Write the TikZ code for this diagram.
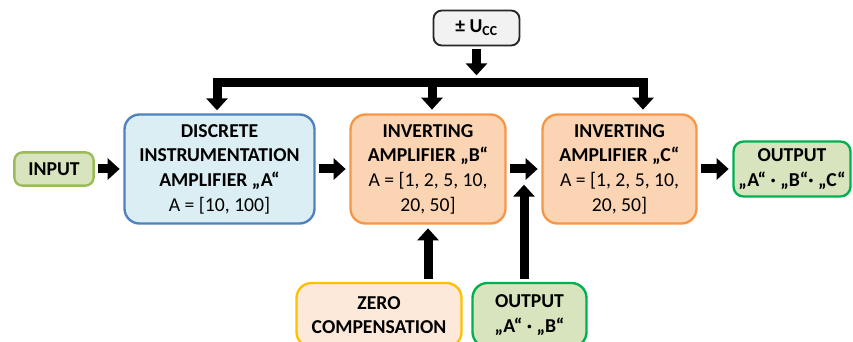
\documentclass[tikz,border=0pt]{standalone}
\usepackage{fontspec}
\setmainfont{Carlito}
\usetikzlibrary{arrows.meta,positioning}
\definecolor{greenfill}{HTML}{D7E4BD}
\definecolor{greenline}{HTML}{9BBB59}
\definecolor{outline}{HTML}{00B050}
\definecolor{bluefill}{HTML}{DBEEF4}
\definecolor{blueline}{HTML}{4F81BD}
\definecolor{orangefill}{HTML}{FBD4B4}
\definecolor{orangeline}{HTML}{F79646}
\definecolor{zerofill}{HTML}{FDE9D9}
\definecolor{zeroline}{HTML}{FFC000}
\definecolor{grayfill}{HTML}{F2F2F2}
\begin{document}
\begin{tikzpicture}[x=0.3mm, y=-0.3mm,
  blk/.style={draw, rounded corners=4.5mm, align=center, line width=2pt, inner sep=0pt, font=\fontsize{16.8}{21}\selectfont},
  inbox/.style={blk, fill=greenfill, draw=greenline, rounded corners=2.5mm},
  outbox/.style={blk, fill=greenfill, draw=outline, rounded corners=3mm},
  ampbox/.style={blk, fill=orangefill, draw=orangeline, minimum height=32.7mm},
  bigarrow/.style={line width=2.7mm, -{Triangle[width=6.3mm,length=3.6mm]}, shorten <=0.9mm, shorten >=1.1mm},
  busarrow/.style={bigarrow, {Triangle[width=6.3mm,length=3.6mm]}-{Triangle[width=6.3mm,length=3.6mm]}}
]
\useasboundingbox (0,0) rectangle (853,342);

% blocks
\node[inbox, minimum width=23.8mm, minimum height=10mm] (inp) at (54,169) {\textbf{INPUT}};
\node[blk, fill=bluefill, draw=blueline, minimum width=57mm, minimum height=32.7mm] (ampA) at (219.5,169)
  {\textbf{DISCRETE}\\\textbf{INSTRUMENTATION}\\\textbf{AMPLIFIER „A“}\\A = [10, 100]};
\node[ampbox, minimum width=46.5mm] (ampB) at (428,169)
  {\textbf{INVERTING}\\\textbf{AMPLIFIER „B“}\\A = [1, 2, 5, 10,\\20, 50]};
\node[ampbox, minimum width=46.2mm] (ampC) at (619.5,169)
  {\textbf{INVERTING}\\\textbf{AMPLIFIER „C“}\\A = [1, 2, 5, 10,\\20, 50]};
\node[outbox, minimum width=35.1mm, minimum height=16.5mm] (outABC) at (792,169)
  {\textbf{OUTPUT}\\\textbf{„A“ · „B“· „C“}};
\node[blk, fill=grayfill, draw=black!85, line width=1.6pt, rounded corners=2.5mm, minimum width=25.8mm, minimum height=10.5mm] (ucc) at (476.5,28)
  {\textbf{± U\textsubscript{CC}}};
\node[blk, fill=zerofill, draw=zeroline, minimum width=49.5mm, minimum height=19.2mm] (zero) at (379,315)
  {\textbf{ZERO}\\\textbf{COMPENSATION}};
\node[outbox, rounded corners=4.5mm, minimum width=34.2mm, minimum height=19.2mm] (outAB) at (529.5,315)
  {\textbf{OUTPUT}\\\textbf{„A“ · „B“}};

% supply bus
\coordinate (busA) at (217,83);
\coordinate (busB) at (432,83);
\coordinate (busC) at (643,83);
\coordinate (busU) at (476.5,79);
\coordinate (mid) at (524,181);

% connectors
\draw[bigarrow] (ucc.south) -- (busU);
\draw[busarrow] (ampA.north -| busA) |- (busC) -- (ampC.north -| busC);
\draw[bigarrow] (busB) -- (ampB.north -| busB);
\draw[bigarrow] (inp) -- (ampA);
\draw[bigarrow] (ampA) -- (ampB);
\draw[bigarrow] (ampB) -- (ampC);
\draw[bigarrow] (ampC) -- (outABC);
\draw[bigarrow] (zero.north -| ampB) -- (ampB.south);
\draw[bigarrow] (outAB.north -| mid) -- (mid);
\end{tikzpicture}
\end{document}
